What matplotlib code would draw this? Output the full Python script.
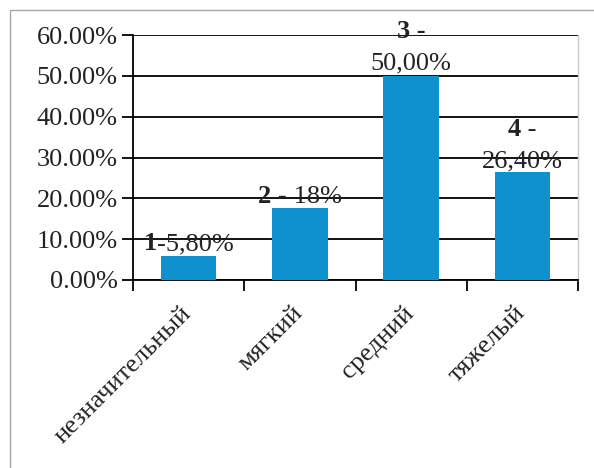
import matplotlib.pyplot as plt
from matplotlib.patches import Rectangle
from matplotlib.ticker import FuncFormatter, FixedLocator

categories = ["незначительный", "мягкий", "средний", "тяжелый"]
values = [5.8, 17.6, 50.0, 26.4]
# each label: list of lines, each line a list of (text, weight)
labels = [
    [[("1", "bold"), ("-5,80%", "normal")]],
    [[("2 -", "bold"), (" 18%", "normal")]],
    [[("3 -", "bold")], [("50,00%", "normal")]],
    [[("4", "bold"), (" -", "normal")], [("26,40%", "normal")]],
]
yticks = [0, 10, 20, 30, 40, 50, 60]

plt.rcParams['font.family'] = ['Liberation Serif', 'DejaVu Serif']
FS = 19

fig = plt.figure(figsize=(5.94, 4.68), dpi=100)
ax = fig.add_axes([133 / 594, 1 - 280 / 468, 445 / 594, 245 / 468])

# outer frame (only top and left edges visible)
fig.patches.append(Rectangle((10 / 594, -0.1), 1.1, 1 - 10 / 468 + 0.1,
                             transform=fig.transFigure, fill=False,
                             edgecolor="#a6a6a6", linewidth=1.0))

x = list(range(len(categories)))
ax.bar(x, values, width=0.5, color="#0f91cd", zorder=3)

ax.set_xlim(-0.5, len(categories) - 0.5)
ax.set_ylim(0, 60)
ax.set_yticks(yticks)
ax.yaxis.set_major_formatter(FuncFormatter(lambda v, p: f"{v:.2f}%"))
ax.grid(axis="y", color="black", linewidth=1.3, zorder=1)
ax.set_axisbelow(True)

# category labels drawn by hand so they can sit a bit right of centre
ax.set_xticks(x)
ax.set_xticklabels([])
for xi, cat in zip(x, categories):
    ax.annotate(cat, xy=(xi, 0), xycoords=("data", "axes fraction"),
                xytext=(7, -22), textcoords="offset pixels", rotation=45,
                ha="right", va="top", fontsize=FS, color="#222222")
ax.xaxis.set_minor_locator(FixedLocator([i - 0.5 for i in range(len(categories) + 1)]))
ax.tick_params(axis="x", which="major", length=0)
ax.tick_params(axis="x", which="minor", length=8, width=1.3, direction="out")
ax.tick_params(axis="y", length=8, width=1.3, direction="out", pad=3, labelsize=FS,
               labelcolor="#222222")

for s in ["left", "bottom"]:
    ax.spines[s].set_linewidth(1.3)
ax.spines["top"].set_visible(False)
ax.spines["right"].set_color("#c8c8c8")
ax.spines["right"].set_linewidth(1.0)

# data labels, mixed bold / regular, centred over bars
dys = [[6], [5], [38, 6], [36, 5]]
fig.canvas.draw()
renderer = fig.canvas.get_renderer()
for xi, val, lines, dl in zip(x, values, labels, dys):
    for line, dy in zip(lines, dl):
        texts = []
        for txt, w in line:
            t = ax.annotate(txt, xy=(xi, val), xytext=(0, dy), textcoords="offset pixels",
                            ha="left", va="baseline", fontsize=FS, fontweight=w, zorder=4,
                            color="#222222")
            texts.append(t)
        widths = [t.get_window_extent(renderer).width for t in texts]
        off = -sum(widths) / 2
        for t, wd in zip(texts, widths):
            t.xyann = (off, dy)
            off += wd

fig.savefig("out.png", dpi=100)
